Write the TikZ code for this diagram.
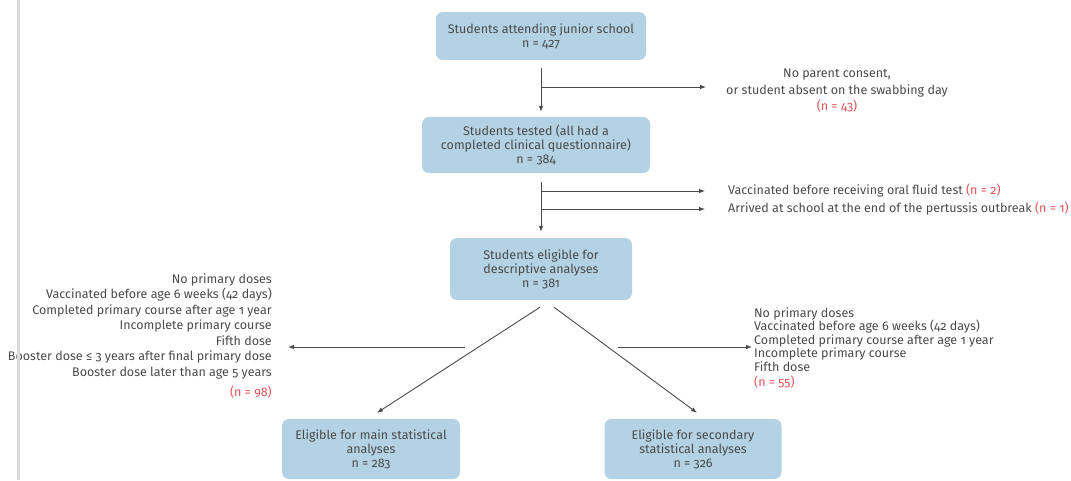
\documentclass[tikz,border=0pt]{standalone}
\usepackage{fontspec}
\setmainfont{Fira Sans}[Numbers=OldStyle]
\usetikzlibrary{arrows.meta}
\definecolor{boxblue}{HTML}{B3D2E4}
\definecolor{txtgray}{HTML}{4A4A4A}
\definecolor{numred}{HTML}{E2535B}
\definecolor{rulegray}{HTML}{DCDCDC}

\begin{document}
\begin{tikzpicture}[x=1pt,y=-1pt,
    font=\fontsize{12.5}{14}\selectfont, text=txtgray,
    stagebox/.style={fill=boxblue, rounded corners=7pt, align=center, inner sep=0pt},
    flow/.style={draw=txtgray, line width=0.9pt, -{Latex[length=6pt,width=4.5pt]}},
    note/.style={inner sep=0pt},
    nred/.style={text=numred}]
\useasboundingbox (0,0) rectangle (1071,480);

% Boxes
\node[stagebox, minimum width=210, minimum height=48] (school) at (541,36)
    {Students attending junior school\\n = 427};
\node[stagebox, minimum width=228, minimum height=56] (tested) at (536,145)
    {Students tested (all had a\\completed clinical questionnaire)\\n = 384};
\node[stagebox, minimum width=182, minimum height=62] (eligible) at (541,269)
    {Students eligible for\\descriptive analyses\\n = 381};
\node[stagebox, minimum width=178, minimum height=60] (mainan) at (371,449)
    {Eligible for main statistical\\analyses\\n = 283};
\node[stagebox, minimum width=177, minimum height=60] (secan) at (693,449)
    {Eligible for secondary\\statistical analyses\\n = 326};

% Exclusions
\node[note, align=center, font=\fontsize{12.5}{16.5}\selectfont] (consent) at (837,91)
    {No parent consent,\\or student absent on the swabbing day\\{\color{numred}(n = 43)}};
\node[note, anchor=west] (vacc) at (728,191)
    {Vaccinated before receiving oral fluid test {\color{numred}(n = 2)}};
\node[note, anchor=west] (arrived) at (728,209)
    {Arrived at school at the end of the pertussis outbreak {\color{numred}(n = 1)}};
\node[note, anchor=east, align=right, font=\fontsize{12.5}{15.5}\selectfont] (exclmain) at (272,336)
    {No primary doses\\Vaccinated before age 6 weeks (42 days)\\Completed primary course after age 1 year\\
     Incomplete primary course\\Fifth dose\\Booster dose ≤ 3 years after final primary dose\\
     Booster dose later than age 5 years\\[5pt]{\color{numred}(n = 98)}};
\node[note, anchor=west, align=left, font=\fontsize{12.5}{13.5}\selectfont] (exclsec) at (754,348)
    {No primary doses\\Vaccinated before age 6 weeks (42 days)\\Completed primary course after age 1 year\\
     Incomplete primary course\\Fifth dose\\[2pt]{\color{numred}(n = 55)}};

% Junctions
\coordinate (j1) at (541,87);
\coordinate (j2) at (541,191);
\coordinate (j3) at (541,209);
\coordinate (lstart) at (465,347);
\coordinate (rstart) at (618,347);

% Arrows
\draw[flow, shorten <=8pt, shorten >=5pt] (school.south) -- (school.south |- tested.north);
\draw[flow, shorten >=20pt] (j1) -- (j1 -| consent.west);
\draw[flow, shorten <=9pt, shorten >=6pt] (j2 |- tested.south) -- (j2 |- eligible.north);
\draw[flow, shorten >=23pt] (j2) -- (vacc.west);
\draw[flow, shorten >=23pt] (j3) -- (arrived.west);
\draw[flow] ([xshift=-1pt,yshift=-7pt]eligible.south) -- ([xshift=6pt,yshift=6pt]mainan.north);
\draw[flow] ([xshift=13pt,yshift=-7pt]eligible.south) -- ([xshift=4pt,yshift=6pt]secan.north);
\draw[flow, shorten >=16pt] (lstart) -- (lstart -| exclmain.east);
\draw[flow, shorten >=2pt] (rstart) -- (rstart -| exclsec.west);

% Page rule
\draw[rulegray, line width=3pt] (18,0) -- (18,480);
\end{tikzpicture}
\end{document}
